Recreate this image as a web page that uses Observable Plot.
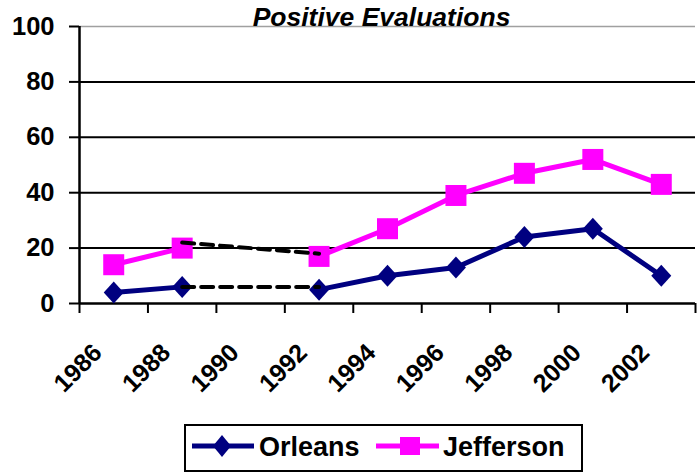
<!DOCTYPE html>
<html>
<head>
<meta charset="utf-8">
<script src="https://cdn.jsdelivr.net/npm/d3@7"></script>
<script src="https://cdn.jsdelivr.net/npm/@observablehq/plot@0.6"></script>
<style>
  html, body { margin: 0; padding: 0; background: #fff; }
  body { width: 697px; height: 472px; overflow: hidden; font-family: "Liberation Sans", Arial, sans-serif; font-weight: bold; }
  #legend { position: relative; margin-left: 184px; margin-top: 3px; width: 395px; height: 44px; border: 2px solid #000; }
  #legend span { position: absolute; font-size: 27px; line-height: 1; top: 8px; color: #000; }
  #legend svg { position: absolute; left: 0; top: 0; }
</style>
</head>
<body>
<script>
// ---- data ----
const title = "Positive Evaluations";
const years = [1986, 1988, 1990, 1992, 1994, 1996, 1998, 2000, 2002];
const orleans = [4, 6, null, 5, 10, 13, 24, 27, 10];
const jefferson = [14, 20, null, 17, 27, 39, 47, 52, 43];
const gapYears = [1988, 1992];
const orleansGap = [6, 6];
const jeffersonGap = [22, 18];
const yTicks = [0, 20, 40, 60, 80, 100];
const xBoundaries = [1985, 1987, 1989, 1991, 1993, 1995, 1997, 1999, 2001, 2003];
const seriesNames = ["Orleans", "Jefferson"];
const seriesColors = ["#000080", "#FF00FF"];

// ---- tables ----
const orleansRows = years.map((year, i) => ({year, value: orleans[i]}));
const jeffersonRows = years.map((year, i) => ({year, value: jefferson[i]}));
const orleansGapRows = gapYears.map((year, i) => ({year, value: orleansGap[i]}));
const jeffersonGapRows = gapYears.map((year, i) => ({year, value: jeffersonGap[i]}));

const diamond = {draw(ctx) { ctx.moveTo(0, -11); ctx.lineTo(10, 0); ctx.lineTo(0, 11); ctx.lineTo(-10, 0); ctx.closePath(); }};
const square = {draw(ctx) { ctx.rect(-10.5, -10.5, 21, 21); }};

const chart = Plot.plot({
  width: 697,
  height: 421,
  marginLeft: 79,
  marginRight: 2,
  marginTop: 26,
  marginBottom: 118,
  style: {fontFamily: "'Liberation Sans', Arial, sans-serif", fontWeight: "bold", background: "#fff", color: "#000"},
  x: {domain: [xBoundaries[0], xBoundaries[xBoundaries.length - 1]]},
  y: {domain: [0, 100]},
  marks: [
    Plot.ruleY(yTicks.filter(d => d > 0 && d < 100), {stroke: "#000", strokeWidth: 2}),
    Plot.ruleY([100], {stroke: "#a0a0a0", strokeWidth: 1.5}),
    Plot.ruleX([xBoundaries[0]], {stroke: "#000", strokeWidth: 2.5}),
    Plot.ruleY([0], {stroke: "#000", strokeWidth: 2.5}),
    Plot.axisY({ticks: yTicks, tickSize: 10, tickPadding: 15, fontSize: 25.5, fontWeight: "bold", strokeWidth: 2, label: null}),
    Plot.axisX({ticks: xBoundaries, tickSize: 10, tickFormat: () => "", strokeWidth: 2, label: null}),
    Plot.text(years, {x: d => d, y: d => 0, text: d => String(d), rotate: -45, textAnchor: "end", dx: -16, dy: 45, fontSize: 25, fontWeight: "bold", fill: "#000"}),
    Plot.text([title], {frameAnchor: "top", lineAnchor: "bottom", dx: -6, dy: -1, fontSize: 26.5, fontWeight: "bold", fontStyle: "italic", fill: "#000"}),
    Plot.line(orleansRows, {x: "year", y: "value", stroke: seriesColors[0], strokeWidth: 5}),
    Plot.line(jeffersonRows, {x: "year", y: "value", stroke: seriesColors[1], strokeWidth: 5}),
    Plot.dot(orleansRows, {x: "year", y: "value", symbol: diamond, fill: seriesColors[0], stroke: null}),
    Plot.dot(jeffersonRows, {x: "year", y: "value", symbol: square, fill: seriesColors[1], stroke: null}),
    Plot.line(orleansGapRows, {x: "year", y: "value", stroke: "#000", strokeWidth: 4, strokeDasharray: "12,7"}),
    Plot.line(jeffersonGapRows, {x: "year", y: "value", stroke: "#000", strokeWidth: 4, strokeDasharray: "12,7"})
  ]
});
document.body.appendChild(chart);

// ---- legend (HTML below the SVG) ----
const legend = document.createElement("div");
legend.id = "legend";
const ns = "http://www.w3.org/2000/svg";
const sw = document.createElementNS(ns, "svg");
sw.setAttribute("width", 395); sw.setAttribute("height", 44);
const swatchX = [[6, 68, 36], [190, 253, 224]];
seriesNames.forEach((name, i) => {
  const [x1, x2, cx] = swatchX[i];
  const cy = 20;
  const ln = document.createElementNS(ns, "line");
  ln.setAttribute("x1", x1); ln.setAttribute("x2", x2); ln.setAttribute("y1", cy); ln.setAttribute("y2", cy);
  ln.setAttribute("stroke", seriesColors[i]); ln.setAttribute("stroke-width", 5);
  sw.appendChild(ln);
  const mk = document.createElementNS(ns, "path");
  mk.setAttribute("d", i === 0
    ? `M${cx},${cy - 11}L${cx + 9},${cy}L${cx},${cy + 11}L${cx - 9},${cy}Z`
    : `M${cx - 10},${cy - 9}h20v18h-20Z`);
  mk.setAttribute("fill", seriesColors[i]);
  sw.appendChild(mk);
});
legend.appendChild(sw);
const textX = [73, 257];
seriesNames.forEach((name, i) => {
  const s = document.createElement("span");
  s.textContent = name;
  s.style.left = textX[i] + "px";
  legend.appendChild(s);
});
document.body.appendChild(legend);
</script>
</body>
</html>
